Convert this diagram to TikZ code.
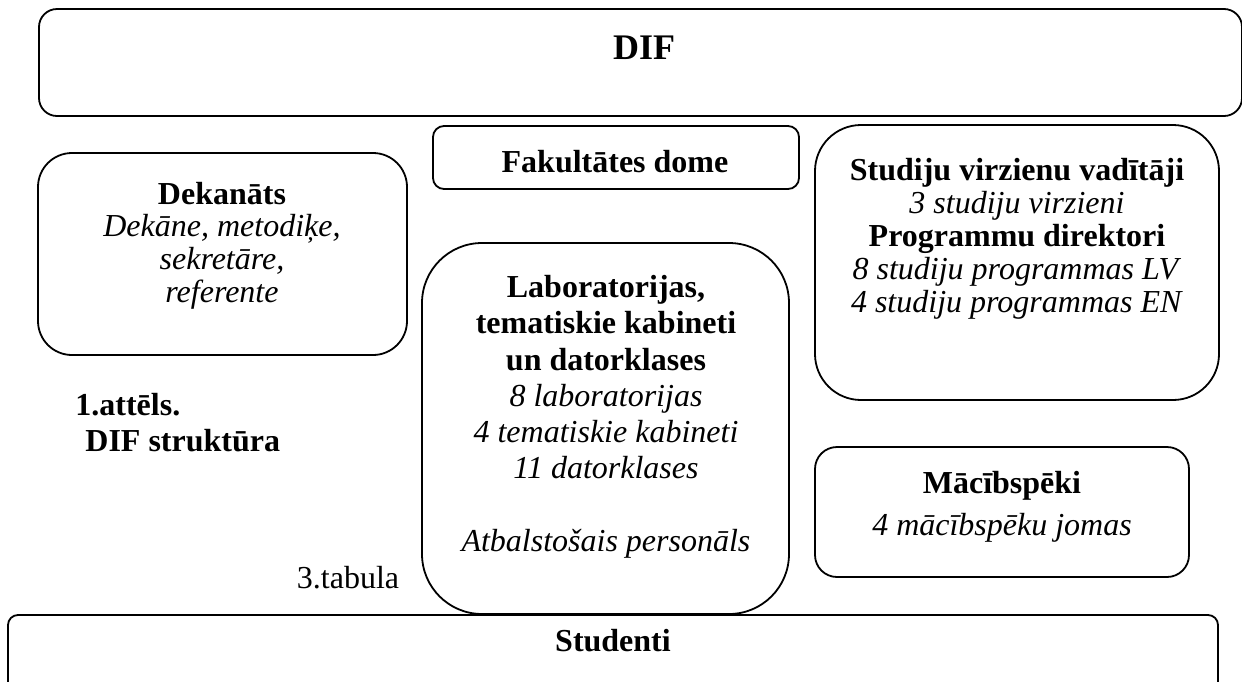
\documentclass[tikz,border=0pt]{standalone}
\usepackage{fontspec}
\setmainfont{Liberation Serif}
\usetikzlibrary{fit}
\tikzset{
  rbox/.style={draw, line width=0.9pt, inner sep=0pt},
  txt/.style={inner sep=0pt, align=center, font=\fontsize{16}{16.3}\selectfont, anchor=base},
  stxt/.style={inner sep=0pt, align=center, font=\fontsize{16}{16.5}\selectfont, anchor=base},
  labtxt/.style={inner sep=0pt, align=center, font=\fontsize{16}{18.1}\selectfont, anchor=base}
}
\begin{document}
\begin{tikzpicture}[x=0.5pt,y=-0.5pt]
\useasboundingbox (0,0) rectangle (1242,681);
\clip (0,0) rectangle (1242,681);
% boxes
\node[rbox, rounded corners=9pt, fit={(39,9)(1242,116)}] (dif) {};
\node[rbox, rounded corners=17pt, fit={(38,153)(407,355)}] (dek) {};
\node[rbox, rounded corners=5.5pt, fit={(433,126)(799,189)}] (dome) {};
\node[rbox, rounded corners=30pt, fit={(422,243)(789,614)}] (lab) {};
\node[rbox, rounded corners=23pt, fit={(815,125)(1219,400)}] (stud) {};
\node[rbox, rounded corners=11pt, fit={(815,447)(1189,577)}] (mac) {};
\node[rbox, rounded corners=5pt, fit={(8,615)(1218,720)}] (studenti) {};
% texts (base anchor = baseline of the last line)
\node[txt, font=\fontsize{18}{20}\selectfont\bfseries] (diftxt) at (644,59) {DIF};
\node[txt] (dektxt) at (222,302) {\textbf{Dekanāts}\\\textit{Dekāne, metodiķe,}\\\textit{sekretāre,}\\\textit{referente}};
\node[txt, font=\fontsize{16}{18}\selectfont\bfseries] (dometxt) at (615,172) {Fakultātes dome};
\node[labtxt] (labtxt) at (606,551) {\textbf{Laboratorijas,}\\\textbf{tematiskie kabineti}\\\textbf{un datorklases}\\\textit{8 laboratorijas}\\\textit{4 tematiskie kabineti}\\\textit{11 datorklases}\\[18.1pt]\textit{Atbalstošais personāls}};
\node[stxt] (studtxt) at (1017,312) {\textbf{Studiju virzienu vadītāji}\\\textit{3 studiju virzieni}\\\textbf{Programmu direktori}\\\textit{8 studiju programmas LV}\\\textit{4 studiju programmas EN}};
\node[txt, font=\fontsize{16}{18}\selectfont\bfseries] (mactxt) at (1002,493) {Mācībspēki};
\node[txt, font=\fontsize{16}{18}\selectfont\itshape] (macsub) at (1002,535) {4 mācībspēku jomas};
\node[txt, font=\fontsize{16}{18}\selectfont\bfseries] (studentitxt) at (613,651) {Studenti};
\node[txt, font=\fontsize{16}{18}\selectfont\bfseries, anchor=base west] (att) at (75,415) {1.attēls.};
\node[txt, font=\fontsize{16}{18}\selectfont\bfseries, anchor=base west] (str) at (85,451) {DIF struktūra};
\node[txt, font=\fontsize{16}{18}\selectfont] (tab) at (348,588) {3.tabula};
\end{tikzpicture}
\end{document}
